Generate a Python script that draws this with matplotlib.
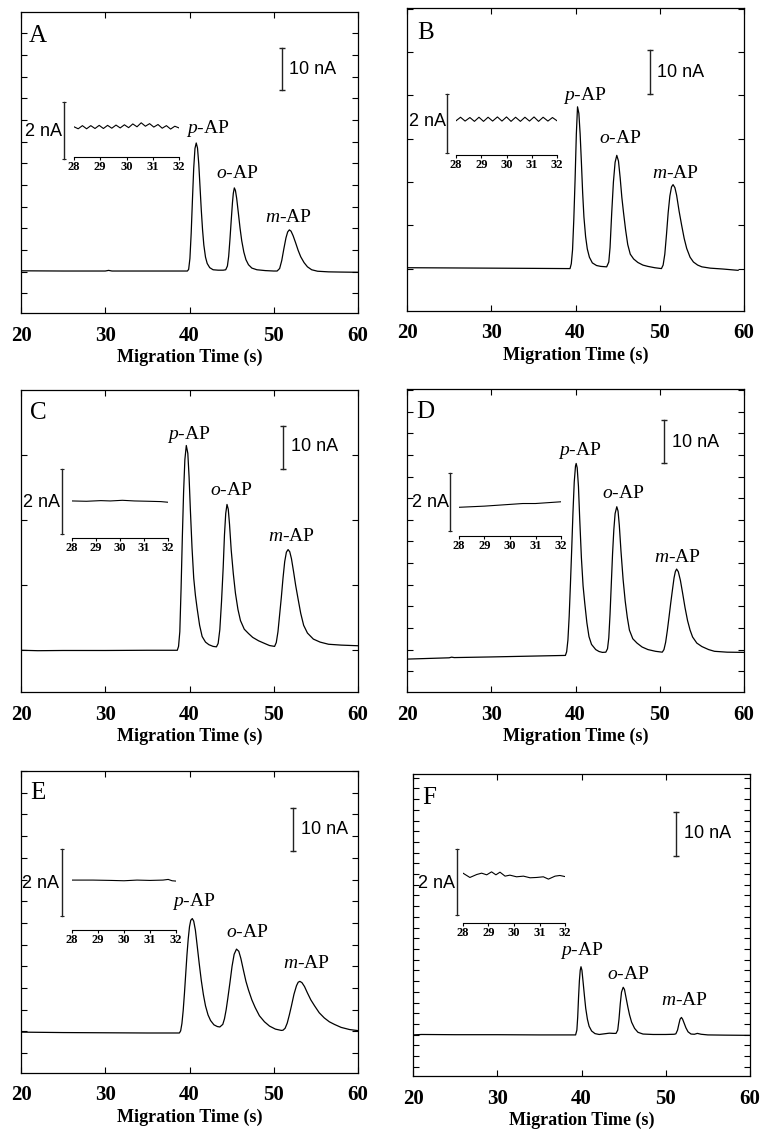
"""Six electropherograms (A-F) of p-, o-, m-aminophenol with baseline-noise insets."""
import matplotlib
matplotlib.use("Agg")
import matplotlib.pyplot as plt
import numpy as np

plt.rcParams.update({
    "font.family": "Liberation Serif",
    "mathtext.fontset": "custom",
    "mathtext.it": "Liberation Serif:italic",
    "mathtext.rm": "Liberation Serif",
})

# ---- data: (migration time s, current nA) ----
A_TRACE = [(20.0, 10.05), (25.0, 10.0), (30.0, 10.0), (30.4, 10.15), (30.8, 10.0), (35.0, 10.0), (39.75, 10.0),
           (39.9, 10.4), (40.05, 13.0), (40.2, 19.0), (40.35, 27.0), (40.5, 34.5), (40.65, 39.2), (40.8, 40.5),
           (40.95, 39.3), (41.1, 35.5), (41.25, 30.0), (41.4, 24.5), (41.55, 19.8), (41.7, 16.2), (41.9, 13.3),
           (42.1, 11.8), (42.4, 10.8), (42.8, 10.3), (43.4, 10.2), (44.0, 10.2), (44.3, 10.3),
           (44.5, 11.2), (44.65, 13.5), (44.8, 17.5), (44.95, 22.0), (45.1, 26.3), (45.2, 28.5), (45.32, 29.8),
           (45.45, 29.2), (45.6, 27.3), (45.8, 23.8), (46.0, 20.2), (46.2, 17.2), (46.45, 14.5), (46.7, 12.7),
           (47.0, 11.5), (47.4, 10.7), (48.0, 10.3), (49.0, 10.1), (50.0, 10.0), (50.4, 10.0),
           (50.7, 10.6), (50.95, 12.5), (51.2, 15.3), (51.45, 17.9), (51.65, 19.3), (51.85, 19.8), (52.05, 19.5),
           (52.3, 18.4), (52.6, 16.7), (52.9, 14.9), (53.2, 13.4), (53.6, 12.0), (54.0, 11.0), (54.5, 10.3),
           (55.2, 9.95), (56.5, 9.8), (58.0, 9.75), (60.0, 9.7)]
B_TRACE = [(20.0, 9.9), (25.0, 9.85), (30.0, 9.8), (35.0, 9.75), (39.35, 9.7),
           (39.5, 10.8), (39.65, 14.0), (39.8, 21.0), (39.95, 30.0), (40.1, 40.5), (40.24, 46.7), (40.4, 45.2),
           (40.55, 40.5), (40.7, 34.0), (40.85, 27.0), (41.0, 21.5), (41.2, 17.0), (41.4, 14.2), (41.65, 12.3),
           (42.0, 11.0), (42.5, 10.4), (43.0, 10.2), (43.7, 10.1),
           (43.95, 11.2), (44.1, 14.5), (44.3, 22.5), (44.5, 29.5), (44.7, 34.0), (44.9, 35.6), (45.1, 34.3),
           (45.3, 30.5), (45.5, 26.0), (45.7, 22.5), (45.95, 18.5), (46.2, 15.2), (46.5, 13.0), (46.9, 11.9),
           (47.4, 11.1), (48.0, 10.5), (48.6, 10.2), (49.4, 9.9), (50.2, 9.7),
           (50.4, 10.5), (50.6, 13.0), (50.8, 17.5), (51.0, 22.5), (51.2, 26.3), (51.4, 28.4), (51.58, 28.9),
           (51.8, 28.2), (52.0, 26.5), (52.3, 22.8), (52.6, 19.6), (52.9, 16.6), (53.2, 14.3), (53.6, 12.3),
           (54.0, 11.2), (54.5, 10.5), (55.0, 10.1), (56.0, 9.8), (57.5, 9.6), (59.3, 9.3)]
C_TRACE = [(20.0, 9.7), (22.0, 9.6), (25.0, 9.65), (30.0, 9.65), (35.0, 9.7), (38.55, 9.7),
           (38.7, 10.6), (38.85, 14.0), (39.0, 24.0), (39.15, 36.0), (39.3, 46.5), (39.45, 54.0), (39.62, 57.3),
           (39.8, 55.5), (39.95, 50.0), (40.1, 42.5), (40.3, 33.5), (40.5, 26.5), (40.7, 22.5), (40.9, 19.5),
           (41.2, 15.5), (41.5, 12.9), (41.9, 11.6), (42.3, 11.0), (42.8, 10.6), (43.2, 10.5),
           (43.4, 11.3), (43.6, 14.5), (43.8, 21.0), (44.0, 29.0), (44.15, 36.5), (44.3, 41.5), (44.45, 43.6),
           (44.6, 42.5), (44.75, 39.0), (44.95, 33.0), (45.2, 27.5), (45.45, 23.0), (45.75, 19.2), (46.05, 16.6),
           (46.5, 14.6), (47.0, 13.6), (47.5, 12.7), (48.2, 11.9), (48.9, 11.3), (49.5, 10.8), (50.1, 10.6),
           (50.3, 11.5), (50.5, 14.0), (50.7, 18.0), (50.9, 22.0), (51.1, 26.5), (51.3, 30.3), (51.5, 32.5),
           (51.7, 33.1), (51.9, 32.6), (52.1, 31.0), (52.35, 28.0), (52.6, 24.8), (52.9, 21.5), (53.2, 18.3),
           (53.55, 15.5), (54.0, 13.7), (54.7, 12.3), (55.5, 11.6), (56.5, 11.1), (58.0, 10.9), (60.0, 10.75)]
D_TRACE = [(20.0, 7.6), (25.0, 7.9), (25.3, 8.05), (25.6, 7.95), (30.0, 8.1), (35.0, 8.3), (38.8, 8.45),
           (38.95, 9.3), (39.1, 12.0), (39.25, 17.5), (39.4, 25.0), (39.55, 33.0), (39.7, 41.5), (39.85, 48.5),
           (40.0, 52.2), (40.08, 52.8), (40.2, 51.8), (40.35, 47.5), (40.5, 40.0), (40.7, 31.0), (40.9, 24.5),
           (41.1, 20.5), (41.35, 16.0), (41.6, 12.8), (41.9, 11.0), (42.4, 9.8), (42.8, 9.35), (43.2, 9.15),
           (43.6, 9.2),
           (43.8, 10.0), (43.95, 12.5), (44.1, 18.0), (44.25, 25.0), (44.4, 32.0), (44.55, 37.5), (44.7, 41.2),
           (44.9, 42.8), (45.05, 41.8), (45.2, 38.5), (45.4, 32.5), (45.65, 26.0), (45.9, 21.0), (46.15, 17.2),
           (46.4, 14.3), (46.8, 12.3), (47.3, 11.3), (47.9, 10.4), (48.6, 9.8), (49.5, 9.4), (50.3, 9.2),
           (50.5, 9.8), (50.7, 11.5), (50.9, 14.2), (51.1, 17.3), (51.3, 20.5), (51.5, 23.5), (51.7, 26.4),
           (51.85, 27.8), (52.0, 28.4), (52.2, 27.8), (52.45, 25.8), (52.7, 23.0), (53.0, 19.5), (53.3, 16.5),
           (53.6, 14.3), (53.9, 12.7), (54.4, 11.3), (55.0, 10.5), (55.8, 9.8), (56.5, 9.4), (58.0, 9.2),
           (60.0, 9.15)]
E_TRACE = [(20.0, 9.5), (25.0, 9.4), (30.0, 9.35), (35.0, 9.3), (38.8, 9.3),
           (38.95, 9.8), (39.1, 11.5), (39.25, 14.5), (39.4, 18.5), (39.55, 23.0), (39.7, 27.5), (39.85, 31.2),
           (40.0, 34.0), (40.15, 35.5), (40.33, 35.9), (40.5, 35.3), (40.7, 33.2), (40.9, 29.8), (41.15, 25.5),
           (41.4, 21.5), (41.65, 18.2), (41.9, 15.6), (42.2, 13.5), (42.5, 12.2), (42.9, 11.2), (43.3, 10.8),
           (43.6, 10.7),
           (43.95, 11.3), (44.15, 12.6), (44.35, 14.7), (44.55, 17.4), (44.8, 21.0), (45.05, 24.8), (45.3, 27.6),
           (45.58, 28.8), (45.85, 28.3), (46.1, 26.6), (46.4, 23.9), (46.7, 21.3), (47.0, 19.3), (47.4, 17.0),
           (47.8, 15.2), (48.3, 13.3), (48.9, 11.9), (49.5, 10.9), (50.2, 10.2), (50.9, 9.9),
           (51.1, 9.95), (51.35, 10.4), (51.6, 11.6), (51.85, 13.5), (52.1, 15.6), (52.4, 18.3), (52.7, 20.3),
           (52.9, 21.1), (53.1, 21.3), (53.35, 21.0), (53.65, 20.1), (54.0, 18.6), (54.4, 17.0), (54.85, 15.6),
           (55.4, 14.0), (56.0, 12.8), (56.6, 11.9), (57.2, 11.3), (58.0, 10.6), (59.0, 10.1), (60.0, 9.85)]
F_TRACE = [(20.0, 9.4), (21.0, 9.5), (25.0, 9.45), (30.0, 9.45), (35.0, 9.4), (39.3, 9.4),
           (39.45, 10.5), (39.55, 13.5), (39.65, 18.0), (39.75, 21.8), (39.85, 24.2), (39.94, 25.0), (40.05, 24.2),
           (40.2, 21.3), (40.35, 18.3), (40.5, 15.5), (40.7, 13.0), (40.9, 11.4), (41.2, 10.3), (41.6, 9.7),
           (42.1, 9.5), (42.7, 9.65), (43.3, 9.8), (43.8, 9.75), (44.1, 9.75),
           (44.3, 10.5), (44.45, 13.0), (44.6, 16.5), (44.75, 19.2), (44.95, 20.3), (45.1, 19.8), (45.3, 17.8),
           (45.5, 15.8), (45.7, 14.0), (45.95, 12.3), (46.3, 10.9), (46.7, 10.0), (47.3, 9.6), (48.5, 9.5),
           (50.0, 9.5), (51.0, 9.55),
           (51.2, 9.65), (51.4, 10.5), (51.55, 11.8), (51.7, 13.0), (51.86, 13.4), (52.0, 13.0), (52.2, 12.0),
           (52.4, 11.0), (52.65, 10.1), (53.0, 9.6), (53.4, 9.55), (53.75, 9.75), (54.2, 9.55), (55.0, 9.4),
           (57.0, 9.35), (60.0, 9.3)]

# baseline noise between 28 and 32 s (inset, nA)
A_NOISE = [(28.00, 1.06), (28.16, 0.99), (28.32, 1.10), (28.48, 0.99), (28.64, 1.10), (28.80, 1.00),
           (28.96, 1.11), (29.12, 1.00), (29.28, 1.11), (29.44, 1.01), (29.60, 1.12), (29.76, 1.02),
           (29.92, 1.13), (30.08, 1.03), (30.24, 1.16), (30.40, 1.06), (30.56, 1.20), (30.72, 1.08),
           (30.88, 1.17), (31.04, 1.05), (31.20, 1.14), (31.36, 1.01), (31.52, 1.10), (31.68, 0.98),
           (31.84, 1.08), (32.00, 1.02)]
B_NOISE = [(28.00, 1.16), (28.18, 1.28), (28.36, 1.15), (28.55, 1.27), (28.73, 1.14), (28.91, 1.28),
           (29.09, 1.14), (29.27, 1.28), (29.45, 1.15), (29.64, 1.29), (29.82, 1.15), (30.00, 1.29),
           (30.18, 1.14), (30.36, 1.28), (30.55, 1.14), (30.73, 1.28), (30.91, 1.15), (31.09, 1.29),
           (31.27, 1.14), (31.45, 1.28), (31.64, 1.15), (31.82, 1.27), (32.00, 1.16)]
C_NOISE = [(28.0, 1.14), (28.6, 1.13), (29.2, 1.15), (29.6, 1.14), (30.1, 1.16), (30.6, 1.14),
           (31.2, 1.13), (31.7, 1.12), (32.0, 1.10)]
D_NOISE = [(28.0, 0.99), (28.5, 1.01), (29.0, 1.03), (29.5, 1.06), (30.0, 1.09), (30.5, 1.12),
           (31.0, 1.12), (31.5, 1.15), (32.0, 1.18)]
E_NOISE = [(28.0, 1.49), (28.8, 1.49), (29.5, 1.48), (30.0, 1.47), (30.5, 1.49), (31.0, 1.48),
           (31.5, 1.49), (31.7, 1.51), (31.85, 1.47), (32.0, 1.46)]
F_NOISE = [(28.00, 1.51), (28.27, 1.38), (28.54, 1.47), (28.73, 1.51), (28.93, 1.46), (29.12, 1.55),
           (29.29, 1.46), (29.45, 1.54), (29.65, 1.42), (29.84, 1.45), (30.10, 1.40), (30.37, 1.42),
           (30.63, 1.37), (30.89, 1.38), (31.15, 1.40), (31.35, 1.33), (31.61, 1.42), (31.80, 1.44),
           (32.04, 1.40)]

PANEL_LETTERS = ["A", "B", "C", "D", "E", "F"]
PEAK_NAMES = ["$p$-AP", "$o$-AP", "$m$-AP"]
TIME_TICKS = [20, 30, 40, 50, 60]
INSET_TICKS = [28, 29, 30, 31, 32]

# ---- layout (figure pixels / data positions of annotations) ----
W, H = 763, 1138
LAYOUT = {
    "A": dict(rect=(21, 12, 358, 313), ytop=71.7, yt=(4.7, 5.16), bar=(50.98, 53.1), bartxt=(51.8, 57.9),
              letter=(0.05, 0.92), peaks=[(42.23, 42.8), (45.67, 32.2), (51.73, 21.7)],
              ins=(74, 102, 179, 157, 28.5), insbar=27.62, instxt=(27.54, 0.88)),
    "B": dict(rect=(407, 8, 744, 311), ytop=69.3, yt=(9.7, 9.9), bar=(48.84, 49.7), bartxt=(49.67, 54.5),
              letter=(0.056, 0.917), peaks=[(41.13, 48.3), (45.3, 38.5), (51.8, 30.4)],
              ins=(456, 94, 557, 155, 29.5), insbar=27.64, instxt=(27.6, 1.12)),
    "C": dict(rect=(21, 390, 358, 692), ytop=70.2, yt=(9.84, 15.1), bar=(51.1, 51.9), bartxt=(52.05, 57.0),
              letter=(0.05, 0.924), peaks=[(39.94, 58.8), (44.9, 45.7), (52.1, 35.1)],
              ins=(72, 469, 168, 538, 32.5), insbar=27.58, instxt=(27.5, 1.08)),
    "D": dict(rect=(407, 389, 744, 692), ytop=70.0, yt=(4.77, 5.0), bar=(50.5, 52.9), bartxt=(51.45, 57.7),
              letter=(0.053, 0.924), peaks=[(40.5, 54.7), (45.7, 44.9), (52.1, 30.1)],
              ins=(459, 473, 561, 536, 29.0), insbar=27.65, instxt=(27.61, 1.14)),
    "E": dict(rect=(21, 771, 358, 1073), ytop=70.2, yt=(4.65, 5.04), bar=(52.3, 51.6), bartxt=(53.2, 56.5),
              letter=(0.05, 0.927), peaks=[(40.5, 38.8), (46.8, 31.5), (53.9, 24.3)],
              ins=(72, 849, 176, 930, 33.5), insbar=27.62, instxt=(27.5, 1.4)),
    "F": dict(rect=(413, 774, 750, 1076), ytop=69.1, yt=(2.1, 2.45), bar=(51.2, 50.3), bartxt=(52.2, 55.6),
              letter=(0.047, 0.92), peaks=[(40.0, 27.8), (45.5, 22.1), (52.2, 16.2)],
              ins=(463, 849, 565, 923, 33.0), insbar=27.76, instxt=(27.69, 1.21)),
}
TRACES = dict(zip(PANEL_LETTERS, [A_TRACE, B_TRACE, C_TRACE, D_TRACE, E_TRACE, F_TRACE]))
NOISES = dict(zip(PANEL_LETTERS, [A_NOISE, B_NOISE, C_NOISE, D_NOISE, E_NOISE, F_NOISE]))


def px_rect(x0, y0, x1, y1):
    return [x0 / W, 1 - y1 / H, (x1 - x0) / W, (y1 - y0) / H]


def draw_panel(fig, key):
    lay = LAYOUT[key]
    ax = fig.add_axes(px_rect(*lay["rect"]))
    t, i = zip(*TRACES[key])
    ax.plot(t, i, color="k", lw=0.9)
    ax.set_xlim(20, 60)
    ax.set_ylim(0, lay["ytop"])
    ax.set_xticks(TIME_TICKS)
    ax.set_yticks(np.arange(lay["yt"][0], lay["ytop"], lay["yt"][1]))
    ax.set_yticklabels([])
    ax.tick_params(direction="in", top=True, right=True, length=4, width=0.8, pad=9, labelsize=15)
    for lbl in ax.get_xticklabels():
        lbl.set_fontweight("bold")
    for sp in ax.spines.values():
        sp.set_linewidth(0.9)
    ax.set_xlabel("Migration Time (s)", fontsize=13, fontweight="bold", labelpad=2)

    ax.text(*lay["letter"], key, transform=ax.transAxes, fontsize=18, ha="center", va="center")
    for name, (px, py) in zip(PEAK_NAMES, lay["peaks"]):
        ax.text(px, py, name, fontsize=14, ha="center", va="baseline")

    # 10 nA scale bar
    bx, by = lay["bar"]
    ax.plot([bx, bx], [by, by + 10], color="#222", lw=1.0, marker="_", ms=5, mew=1.0)
    ax.text(*lay["bartxt"], "10 nA", family="Liberation Sans", fontsize=13, ha="left", va="center")

    # noise inset
    left, top, right, axis_y, ppn = lay["ins"]
    ins = fig.add_axes(px_rect(left, top, right, axis_y))
    ins.patch.set_alpha(0)
    ytop_i = (axis_y - top) / ppn
    ins.set_xlim(28, 32)
    ins.set_ylim(0, ytop_i)
    for side in ("top", "left", "right"):
        ins.spines[side].set_visible(False)
    ins.spines["bottom"].set_linewidth(0.8)
    ins.set_xticks(INSET_TICKS)
    ins.set_yticks([])
    ins.tick_params(axis="x", direction="out", length=2.5, width=0.8, pad=0.5, labelsize=9)
    for lbl in ins.get_xticklabels():
        lbl.set_fontweight("bold")
    nt, ni = zip(*NOISES[key])
    ins.plot(nt, ni, color="k", lw=0.8)
    ins.plot([lay["insbar"]] * 2, [ytop_i - 2, ytop_i], color="#222", lw=1.0,
             marker="_", ms=3, mew=0.8, clip_on=False)
    ins.text(*lay["instxt"], "2 nA", family="Liberation Sans", fontsize=13,
             ha="right", va="center", clip_on=False)


fig = plt.figure(figsize=(W / 100, H / 100), dpi=100)
for k in PANEL_LETTERS:
    draw_panel(fig, k)
fig.savefig("out.png", dpi=100)
